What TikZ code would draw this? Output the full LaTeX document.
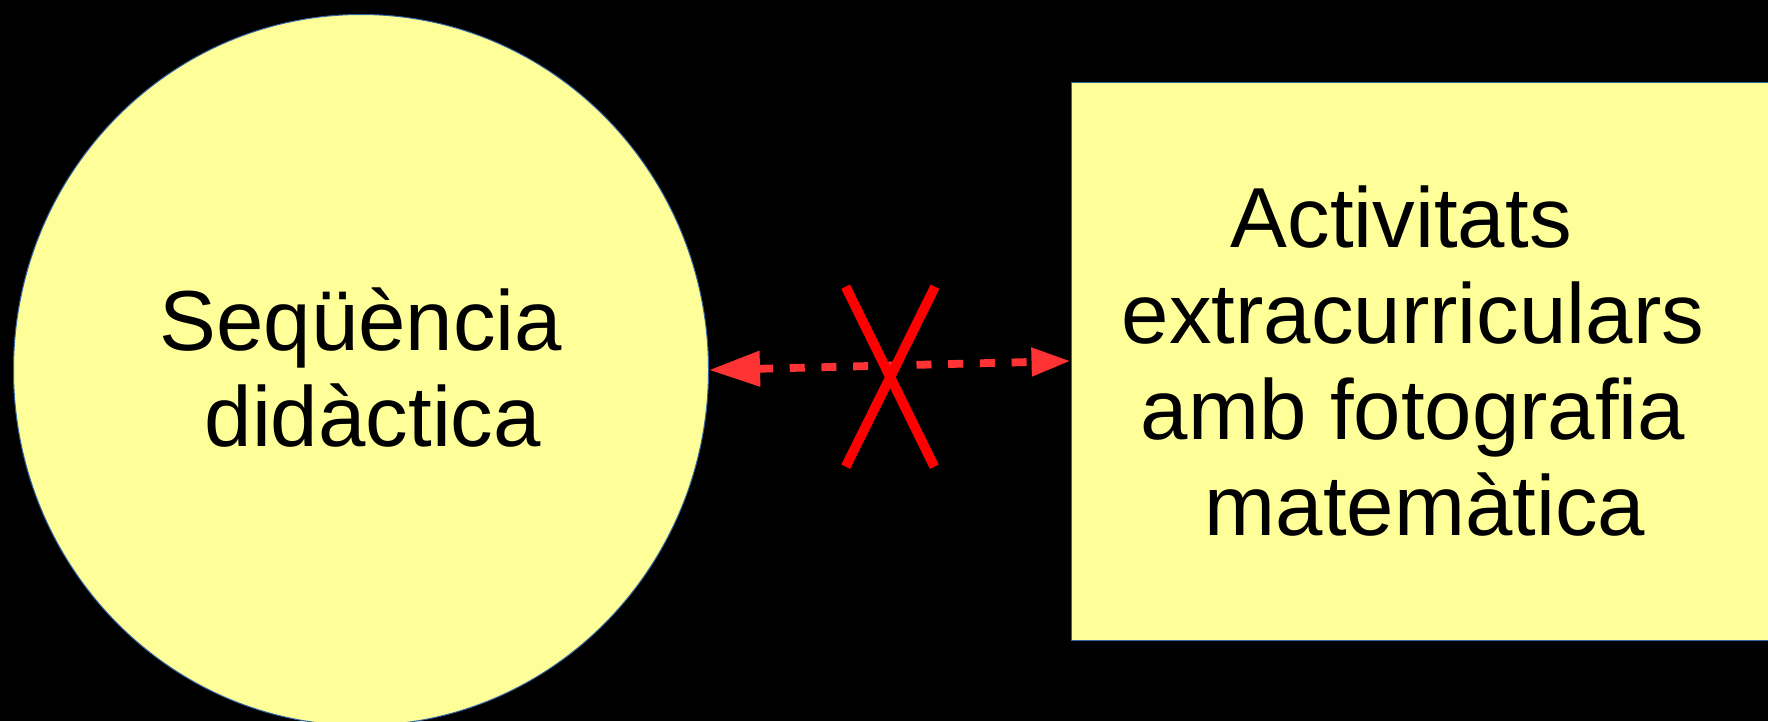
\documentclass[tikz,border=0pt]{standalone}
\usepackage{fontspec}
\setmainfont{Liberation Sans}
\usetikzlibrary{shapes.geometric,arrows.meta}
\definecolor{boxfill}{HTML}{FFFF99}
\definecolor{boxline}{HTML}{3465A4}
\definecolor{arrowred}{HTML}{FF3333}
\definecolor{crossred}{HTML}{FF0000}
\tikzset{
  shapebox/.style={fill=boxfill,draw=boxline,line width=1pt,inner sep=0pt},
  label text/.style={inner sep=0pt,align=center,text=black,
    font=\fontsize{85.2}{96}\selectfont},
  link/.style={draw=arrowred,line width=7.8pt,dash pattern=on 15pt off 16.7pt,
    arrows={Triangle[length=51pt,width=34pt,fill=arrowred]-Triangle[length=39pt,width=27pt,fill=arrowred]}},
  crossline/.style={draw=crossred,line width=9.8pt,line cap=butt}
}
\begin{document}
\begin{tikzpicture}[x=1pt,y=-1pt]
\useasboundingbox (0,0) rectangle (1768,721);
\clip (0,0) rectangle (1768,721);
\fill[black] (0,0) rectangle (1768,721);
\node[shapebox,ellipse,minimum width=695pt,minimum height=711pt] (seq) at (361,370) {};
\node[label text] (seqtxt) at (361,368) {Seqüència\\\hspace*{0.278em}didàctica};
\node[shapebox,rectangle,minimum width=719pt,minimum height=558pt] (act) at (1430.5,361) {};
\node[label text] (acttxt) at (1413,361) {Activitats\hspace*{0.278em}\\extracurriculars\\amb fotografia\\\hspace*{0.278em}matemàtica};
\draw[link] (seq.east) -- (act.west);
\draw[crossline] (845.7,286.7) -- (934.3,466.7);
\draw[crossline] (935,286.7) -- (845.7,466.7);
\end{tikzpicture}
\end{document}
